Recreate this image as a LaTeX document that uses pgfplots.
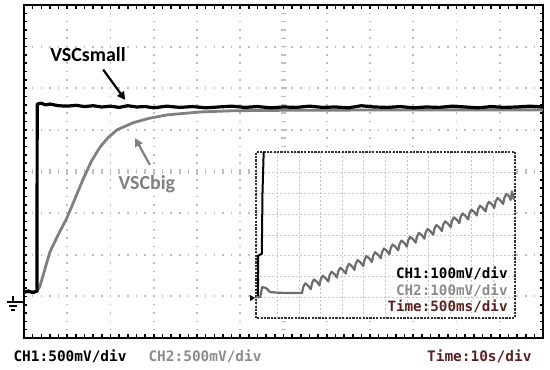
\documentclass[border=0pt]{standalone}
\usepackage{pgfplots}
\pgfplotsset{compat=1.18}
\usetikzlibrary{arrows.meta}
\usepackage{fontspec}
\setmainfont{Carlito}
\newfontfamily\scopefont{DejaVu Sans Mono}

\definecolor{trgray}{HTML}{808080}
\definecolor{griddot}{HTML}{BEBEBE}
\definecolor{lblgray}{HTML}{8C8C8C}
\definecolor{scopered}{HTML}{5C2222}

\begin{document}
\begin{tikzpicture}
% small gray ticks along the two centre lines of the screen
\begin{axis}[
  at={(0,0)}, anchor=south west, scale only axis, width=519bp, height=333bp,
  xmin=-60, xmax=60, ymin=-4, ymax=4,
  axis lines=center, axis line style={draw=none, -},
  xtick={-60,-50,...,60}, ytick={-4,-3,...,4},
  minor x tick num=4, minor y tick num=4,
  xticklabels={}, yticklabels={},
  tick align=center, major tick length=6bp, minor tick length=5bp,
  tick style={griddot, line width=1.6bp},
]
\end{axis}

% main screen: 12 x 8 divisions, CH1/CH2 500 mV/div, 10 s/div
\begin{axis}[
  at={(0,0)}, anchor=south west, scale only axis, width=519bp, height=333bp,
  xmin=0, xmax=120, ymin=0, ymax=8,
  xtick={0,10,...,120}, ytick={0,1,...,8},
  minor x tick num=4, minor y tick num=4,
  xticklabels={}, yticklabels={},
  tick align=inside, major tick length=3.5bp, minor tick length=3.5bp,
  tick style={black, line width=1.6bp},
  axis line style={black, line width=1.6bp},
  grid=major,
  major x grid style={griddot, line width=1.8bp, dash pattern=on 1.6bp off 6.725bp, dash phase=0.8bp},
  major y grid style={griddot, line width=1.8bp, dash pattern=on 1.6bp off 7.05bp, dash phase=0.8bp},
]
% VSCbig (CH2)
\addplot[trgray, line width=2.8bp, line join=round] coordinates {
  (0,1.10) (3.0,1.12) (3.7,1.25) (6.0,2.07) (8.0,2.50) (9.9,2.88) (11.8,3.35)
  (13.6,3.80) (15.6,4.25) (17.6,4.59) (19.5,4.82) (21.5,5.00) (25.2,5.17)
  (29.0,5.28) (33.1,5.36) (40.7,5.43) (48.3,5.46) (60,5.47) (90,5.48) (120,5.48)
};
% VSCsmall (CH1)
\addplot[black, line width=3.2bp, line join=round] coordinates {
  (0,1.10) (1,1.13) (2,1.09) (2.9,1.12) (3.0,1.12) (3.05,5.62) (4,5.64) (5,5.60)
  (6,5.62) (8,5.58) (10,5.57) (12,5.59) (14,5.56) (16,5.58) (18,5.55) (20,5.57)
  (22,5.54) (24,5.58) (26,5.55) (28,5.56) (30,5.53) (33,5.57) (36,5.54) (39,5.56)
  (42,5.53) (45,5.55) (48,5.57) (51,5.54) (54,5.56) (57,5.53) (60,5.55) (63,5.54)
  (66,5.57) (69,5.54) (72,5.55) (75,5.53) (78,5.58) (81,5.55) (84,5.54) (87,5.56)
  (90,5.53) (93,5.55) (96,5.54) (99,5.57) (102,5.55) (105,5.53) (108,5.56)
  (111,5.54) (114,5.55) (117,5.57) (120,5.55)
};

\node[font=\bfseries\fontsize{20}{20}\selectfont] at (axis cs:14.8,6.8) {VSCsmall};
\draw[black, line width=2.2bp, -{Triangle[length=8bp, width=8bp]}]
  (axis cs:18.3,6.45) -- (axis cs:23.4,5.72);
\node[font=\bfseries\fontsize{20}{20}\selectfont, text=trgray] at (axis cs:28.4,3.7) {VSCbig};
\draw[trgray, line width=2.2bp, -{Triangle[length=8bp, width=8bp]}]
  (axis cs:29.1,4.16) -- (axis cs:25.7,4.8);
\end{axis}

% zoomed inset: 100 mV/div, 500 ms/div
\begin{axis}[
  at={(232bp,20bp)}, anchor=south west, scale only axis, width=259bp, height=166bp,
  xmin=0, xmax=12, ymin=0, ymax=8,
  xtick={0,1,...,12}, ytick={0,1,...,8},
  xticklabels={}, yticklabels={}, major tick length=0pt,
  grid=major, grid style={black!22, line width=0.9bp, dash pattern=on 2bp off 2bp},
  axis background/.style={fill=white},
  axis line style={black!80, line width=1.8bp, dash pattern=on 2.2bp off 1.2bp},
]
\addplot[black, line width=2bp] coordinates {
  (0,1.01) (0.09,1.01) (0.10,3.00) (0.27,3.10) (0.30,6.00) (0.37,8.50)
};
\addplot[trgray!85!black, line width=2.2bp, line join=round] coordinates {
  (0,1.01) (0.20,1.01) (0.28,1.49) (0.46,1.45) (0.65,1.25) (1.00,1.22) (1.50,1.20)
  (2.04,1.21)
  (2.13,1.20) (2.19,1.50) (2.28,1.67) (2.41,1.56)
  (2.54,1.39) (2.60,1.69) (2.69,1.86) (2.82,1.75)
  (2.94,1.57) (3.00,1.87) (3.09,2.04) (3.22,1.93)
  (3.35,1.76) (3.41,2.06) (3.50,2.23) (3.63,2.12)
  (3.75,1.95) (3.81,2.25) (3.90,2.42) (4.03,2.31)
  (4.16,2.14) (4.22,2.44) (4.31,2.61) (4.44,2.50)
  (4.56,2.32) (4.62,2.62) (4.71,2.79) (4.84,2.68)
  (4.97,2.51) (5.03,2.81) (5.12,2.98) (5.25,2.87)
  (5.37,2.70) (5.43,3.00) (5.52,3.17) (5.65,3.06)
  (5.78,2.88) (5.84,3.18) (5.93,3.35) (6.06,3.24)
  (6.18,3.07) (6.24,3.37) (6.33,3.54) (6.46,3.43)
  (6.59,3.26) (6.65,3.56) (6.74,3.73) (6.87,3.62)
  (6.99,3.44) (7.05,3.74) (7.14,3.91) (7.27,3.80)
  (7.40,3.63) (7.46,3.93) (7.55,4.10) (7.68,3.99)
  (7.80,3.82) (7.86,4.12) (7.95,4.29) (8.08,4.18)
  (8.21,4.01) (8.27,4.31) (8.36,4.48) (8.49,4.37)
  (8.61,4.19) (8.67,4.49) (8.76,4.66) (8.89,4.55)
  (9.02,4.38) (9.08,4.68) (9.17,4.85) (9.30,4.74)
  (9.42,4.57) (9.48,4.87) (9.57,5.04) (9.70,4.93)
  (9.83,4.75) (9.89,5.05) (9.98,5.22) (10.11,5.11)
  (10.23,4.94) (10.29,5.24) (10.38,5.41) (10.51,5.30)
  (10.64,5.13) (10.70,5.43) (10.79,5.60) (10.92,5.49)
  (11.04,5.31) (11.10,5.61) (11.19,5.78) (11.32,5.67)
  (11.45,5.50) (11.51,5.80) (11.60,5.97) (11.73,5.86)
  (11.80,5.69) (11.86,6.10) (11.95,5.70)
};
\node[anchor=east, font=\scopefont\bfseries\fontsize{14.3}{15}\selectfont, text=black]
  at (rel axis cs:0.985,0.271) {CH1:100mV/div};
\node[anchor=east, font=\scopefont\bfseries\fontsize{14.3}{15}\selectfont, text=lblgray]
  at (rel axis cs:0.985,0.169) {CH2:100mV/div};
\node[anchor=east, font=\scopefont\bfseries\fontsize{14.3}{15}\selectfont, text=scopered]
  at (rel axis cs:0.985,0.072) {Time:500ms/div};
\end{axis}

% ground markers
\draw[black, line width=1.4bp] (-11bp,42bp) -- (-11bp,36bp)
  (-17bp,36bp) -- (-1bp,36bp) (-15bp,32bp) -- (-7bp,32bp) (-13bp,28bp) -- (-9bp,28bp);
\fill[black] (226bp,37bp) -- (231bp,40bp) -- (226bp,43bp) -- cycle;

% channel settings below the screen
\node[anchor=west, font=\scopefont\bfseries\fontsize{14.5}{15}\selectfont, text=black]
  at (-14bp,-18bp) {CH1:500mV/div};
\node[anchor=west, font=\scopefont\bfseries\fontsize{14.5}{15}\selectfont, text=lblgray]
  at (121bp,-18bp) {CH2:500mV/div};
\node[anchor=east, font=\scopefont\bfseries\fontsize{14.5}{15}\selectfont, text=scopered]
  at (511bp,-18bp) {Time:10s/div};

\pgfresetboundingbox
\path[use as bounding box] (-24bp,-32bp) rectangle (526bp,338bp);
\end{tikzpicture}
\end{document}
